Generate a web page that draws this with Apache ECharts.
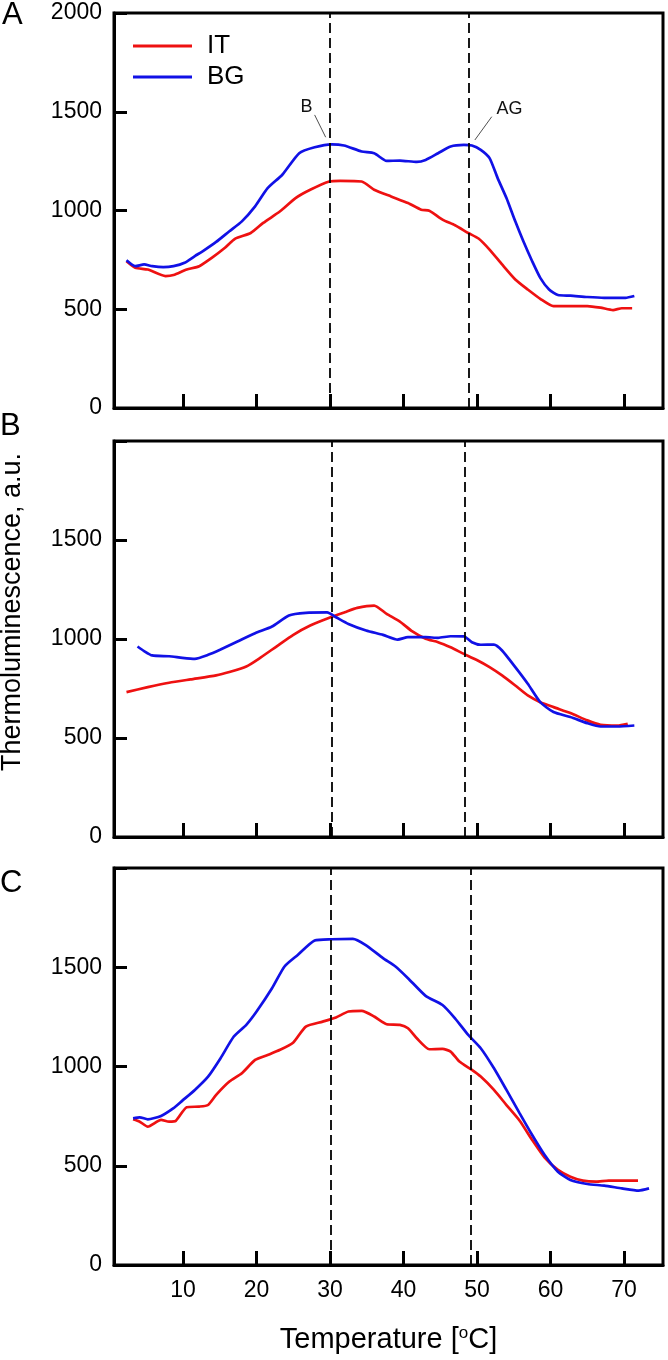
<!DOCTYPE html>
<html><head><meta charset="utf-8">
<script src="https://cdn.jsdelivr.net/npm/echarts@6/dist/echarts.min.js"></script>
<style>html,body{margin:0;padding:0;background:#fff}#c{width:668px;height:1360px}</style>
</head><body><div id="c"></div>
<script>
// ---- data (temperature °C, thermoluminescence a.u.) ----
const seriesNames = ['IT', 'BG'];
const xTickValues = [10, 20, 30, 40, 50, 60, 70];
const yTickValues = [0, 500, 1000, 1500, 2000];
const panelLetters = ['A', 'B', 'C'];

const aIT = [[2.3,743],[3.5,710],[5.2,701],[7.6,668],[8.7,673],[10.5,701],[12.2,718],[13.9,760],[15.7,811],[17.1,858],[19.2,886],[20.9,937],[23.2,996],[25.3,1063],[27.3,1105],[29.9,1147],[31.4,1150],[34.3,1147],[36.0,1105],[38.3,1071],[40.6,1038],[42.4,1004],[43.5,999],[45.3,954],[47.0,925],[48.8,886],[50.2,858],[51.7,802],[53.4,727],[55.2,651],[56.9,600],[58.6,553],[60.4,516],[62.1,516],[65.0,516],[66.8,508],[68.5,496],[69.7,505],[71.1,505]];
const aBG = [[2.3,748],[3.5,718],[4.7,727],[5.8,718],[7.3,713],[8.7,718],[10.2,735],[11.6,769],[12.8,797],[14.5,841],[16.3,895],[18.0,945],[19.8,1021],[21.5,1113],[23.5,1181],[25.8,1290],[27.9,1320],[30.2,1335],[31.9,1329],[34.3,1299],[36.0,1290],[37.7,1251],[39.5,1253],[41.8,1246],[43.0,1256],[44.7,1290],[46.4,1324],[48.2,1332],[49.3,1329],[50.5,1307],[51.7,1265],[52.8,1164],[54.0,1063],[55.2,945],[56.3,844],[57.5,743],[58.6,659],[59.8,600],[61.0,572],[62.7,569],[65.0,562],[67.3,558],[70.2,558],[71.4,567]];

const bIT = [[2.3,732],[5.2,757],[8.1,779],[11.0,796],[14.5,816],[16.3,833],[18.6,861],[20.3,900],[22.7,962],[25.0,1021],[27.3,1068],[29.9,1107],[32.0,1135],[33.7,1157],[36.0,1169],[37.7,1127],[39.5,1088],[41.2,1038],[43.0,1001],[44.7,984],[46.4,958],[48.2,925],[49.9,895],[51.7,858],[53.4,816],[55.2,765],[56.9,715],[58.6,681],[60.4,656],[62.7,626],[65.0,589],[66.8,567],[69.1,563],[70.5,572]];
const bBG = [[3.8,962],[4.7,939],[5.8,917],[8.1,913],[9.9,905],[11.6,900],[13.4,920],[15.1,947],[17.4,987],[19.8,1029],[22.1,1063],[24.4,1119],[26.7,1132],[29.6,1134],[30.8,1110],[32.5,1076],[34.9,1043],[37.2,1021],[39.2,997],[40.6,1009],[43.0,1009],[44.7,1006],[46.4,1014],[48.2,1013],[49.3,984],[50.5,971],[52.3,972],[53.4,942],[55.2,858],[56.9,774],[58.6,681],[60.4,631],[62.7,606],[65.0,575],[66.8,558],[69.1,558],[71.4,563]];

const cIT = [[3.2,734],[4.1,722],[5.2,697],[7.0,731],[8.1,722],[9.0,726],[10.5,795],[12.2,798],[13.4,806],[14.5,857],[16.3,924],[18.0,966],[19.8,1033],[21.5,1058],[23.2,1084],[25.0,1121],[26.7,1201],[29.0,1226],[30.8,1247],[32.5,1277],[34.3,1280],[36.0,1252],[37.7,1213],[39.5,1210],[40.6,1193],[41.8,1142],[43.5,1087],[45.3,1089],[46.4,1075],[47.6,1025],[49.3,983],[50.5,949],[52.3,882],[54.0,806],[55.8,727],[57.5,630],[59.2,541],[61.0,479],[62.7,445],[64.4,425],[66.2,420],[67.9,425],[70.2,425],[71.9,425]];
const cBG = [[3.2,739],[4.1,744],[5.2,734],[7.0,751],[8.7,790],[9.9,828],[11.6,882],[13.4,949],[15.1,1042],[16.9,1151],[18.6,1210],[20.0,1277],[22.1,1394],[23.8,1504],[25.6,1562],[27.9,1635],[30.2,1641],[33.1,1643],[34.8,1613],[37.2,1546],[38.9,1504],[40.6,1445],[43.0,1356],[45.3,1310],[47.0,1243],[48.8,1159],[50.5,1092],[52.3,991],[54.0,882],[55.8,764],[57.5,655],[59.2,554],[61.0,470],[62.7,428],[65.0,408],[67.3,400],[69.7,386],[72.0,375],[73.4,386]];

const dashA = [29.9, 48.9];
const dashB = [30.2, 48.3];
const dashC = [30.1, 49.1];

// annotations in panel A
const annotLabels = ['B', 'AG'];
const annotText = [[26.8, 1525], [54.4, 1513]];
const annotLeaders = [[[27.9, 1484], [29.4, 1371]], [[52.0, 1475], [49.7, 1357]]];

// ---- chart ----
const FONT = '"Liberation Sans", Arial, sans-serif';
const RED = '#ee1111', BLUE = '#1111e6';
const panels = [
  {it: aIT, bg: aBG, dash: dashA, top: 13, height: 395},
  {it: bIT, bg: bBG, dash: dashB, top: 441, height: 396},
  {it: cIT, bg: cBG, dash: dashC, top: 868, height: 397}
];

const grid = panels.map(p => ({
  left: 114, right: 5, top: p.top, height: p.height,
  show: true, borderColor: '#000', borderWidth: 3, backgroundColor: '#fff'
}));

const xAxis = panels.map((p, i) => ({
  type: 'value', gridIndex: i, min: 0.6, max: 75.3,
  splitLine: {show: false},
  axisLine: {show: true, lineStyle: {color: '#000', width: 3}},
  axisTick: {show: true, inside: true, length: 14, customValues: xTickValues, lineStyle: {color: '#000', width: 3}},
  axisLabel: {show: i === 2, customValues: xTickValues, margin: 14, color: '#000', fontSize: 23, fontFamily: FONT},
  name: i === 2 ? 'Temperature [{sup|o}C]' : '',
  nameLocation: 'middle', nameGap: 60,
  nameTextStyle: {color: '#000', fontSize: 29, fontFamily: FONT,
    rich: {sup: {fontSize: 17, fontFamily: FONT, color: '#000', padding: [0, 0, 12, 0]}}}
}));

const yAxis = panels.map((p, i) => ({
  type: 'value', gridIndex: i, min: 0, max: 2000, interval: 500,
  splitLine: {show: false},
  axisLine: {show: true, lineStyle: {color: '#000', width: 3}},
  axisTick: {show: true, inside: true, length: 13, lineStyle: {color: '#000', width: 3}},
  axisLabel: {
    margin: 12, color: '#000', fontSize: 23, fontFamily: FONT,
    formatter: v => (i > 0 && v === 2000) ? '' : String(v)
  }
}));

const series = [];
panels.forEach((p, i) => {
  series.push({
    name: seriesNames[0], type: 'line', xAxisIndex: i, yAxisIndex: i,
    data: p.it, symbol: 'none', smooth: 0.2,
    lineStyle: {color: RED, width: 2.7}, itemStyle: {color: RED},
    markLine: {
      silent: true, symbol: ['none', 'none'], animation: false,
      label: {show: false},
      lineStyle: {color: '#000', width: 1.8, type: [10, 5]},
      data: p.dash.map(v => ({xAxis: v}))
    },
    z: 2
  });
  const bg = {
    name: seriesNames[1], type: 'line', xAxisIndex: i, yAxisIndex: i,
    data: p.bg, symbol: 'none', smooth: 0.2,
    lineStyle: {color: BLUE, width: 2.7}, itemStyle: {color: BLUE},
    z: 3
  };
  if (i === 0) {
    bg.markLine = {
      silent: true, symbol: ['none', 'none'], animation: false,
      label: {show: false},
      lineStyle: {color: '#222', width: 0.8, type: 'solid'},
      data: annotLeaders.map(l => [{coord: l[0]}, {coord: l[1]}])
    };
    bg.markPoint = {
      silent: true, symbol: 'circle', symbolSize: 1, animation: false,
      itemStyle: {color: 'rgba(0,0,0,0)'},
      label: {show: true, position: 'inside', color: '#111', fontSize: 18, fontFamily: FONT,
        formatter: d => d.name},
      data: annotLabels.map((t, k) => ({name: t, coord: annotText[k]}))
    };
  }
  series.push(bg);
});

const letterStyle = t => ({text: t, font: '31px ' + FONT, fill: '#000', textVerticalAlign: 'middle'});
const graphic = [
  {type: 'text', x: 2, y: 15, style: letterStyle(panelLetters[0])},
  {type: 'text', x: 0, y: 426, style: letterStyle(panelLetters[1])},
  {type: 'text', x: 0, y: 883, style: letterStyle(panelLetters[2])},
  {type: 'text', x: 13, y: 612, rotation: Math.PI / 2,
    style: {text: 'Thermoluminescence, a.u.', font: '27px ' + FONT, fill: '#000', textAlign: 'center', textVerticalAlign: 'middle'}}
];

const chart = echarts.init(document.getElementById('c'), null, {renderer: 'canvas'});
chart.setOption({
  animation: false,
  backgroundColor: '#fff',
  grid, xAxis, yAxis, series, graphic,
  legend: {
    data: seriesNames, orient: 'vertical', left: 128, top: 28, itemGap: 5,
    icon: 'rect', itemWidth: 59, itemHeight: 3,
    textStyle: {color: '#000', fontSize: 26, fontFamily: FONT, padding: [0, 0, 0, 10]},
    selectedMode: false
  }
});
</script>
</body></html>
